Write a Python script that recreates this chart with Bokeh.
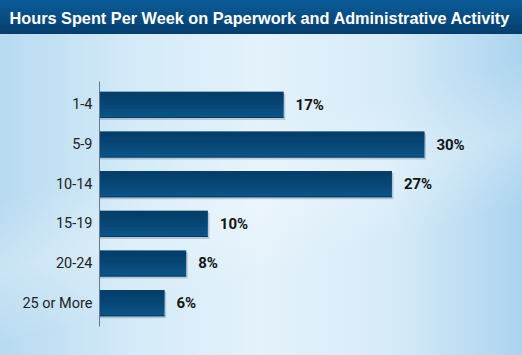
from bokeh.plotting import figure
from bokeh.models import FactorRange, Range1d, ColumnDataSource
from bokeh.transform import dodge
from bokeh.core.properties import value
from bokeh.embed import file_html
from bokeh.resources import INLINE

# ---- data ----
categories = ["1-4", "5-9", "10-14", "15-19", "20-24", "25 or More"]
percent = [17, 30, 27, 10, 8, 6]
pct_labels = ["17%", "30%", "27%", "10%", "8%", "6%"]
title_text = "Hours Spent Per Week on Paperwork and Administrative Activity"

# ---- layout constants ----
W, H = 522, 355
LEFT = 99
TOP = 81
BOTTOM = 29
PX_PER_PCT = 10.83

src = ColumnDataSource(dict(cat=categories, pct=percent, lbl=pct_labels))

p = figure(width=W, height=H, output_backend="svg", toolbar_location=None,
           y_range=FactorRange(factors=categories[::-1], range_padding=0.03,
                               range_padding_units="percent"),
           x_range=Range1d(0, (W - LEFT) / PX_PER_PCT),
           min_border_left=LEFT, min_border_right=0,
           min_border_top=TOP, min_border_bottom=BOTTOM)

p.background_fill_color = None
p.border_fill_color = None
p.outline_line_color = None
p.xgrid.visible = False
p.ygrid.visible = False
p.xaxis.visible = False

p.styles = {
    "background": (
        "linear-gradient(to bottom, #0b5c99 0px, #063e6d 34px, rgba(0,0,0,0) 34px), "
        "linear-gradient(165deg, rgba(255,255,255,0.0) 40%, rgba(255,255,255,0.25) 55%, rgba(255,255,255,0) 70%), "
        "linear-gradient(to right, #b7daf1 0%, #d3eaf8 25%, #e4f2fb 50%, #d6ebf8 75%, #acd4ef 100%)"
    )
}

# title (blank trailing lines lift it into the top bar)
p.title.text = title_text + "\n \n \n "
p.title.align = "left"
p.title.offset = -90
p.title.text_color = "white"
p.title.text_font = "Liberation Sans"
p.title.text_font_style = "bold"
p.title.text_font_size = "16.3px"
p.title.standoff = 1

# bars: shadow, base colour, then darkening layers from the top
BH = 0.66
p.hbar(y=dodge("cat", -0.05, range=p.y_range), left=0, right=dodge("pct", 0.15),
       height=BH, source=src, fill_color="#23405c", fill_alpha=0.22, line_color=None)
p.hbar(y="cat", left=0, right="pct", height=BH, source=src,
       fill_color="#0b5488", line_color=None)
p.hbar(y=dodge("cat", -BH / 2 + 0.012, range=p.y_range), left=0, right="pct",
       height=0.024, source=src, fill_color="#083a60", line_color=None)
nl = 7
for i in range(nl):
    depth = BH * (i + 1) / (nl + 1)
    p.hbar(y=dodge("cat", BH / 2 - depth / 2, range=p.y_range), left=0, right="pct",
           height=depth, source=src, fill_color="#05284a", fill_alpha=0.09,
           line_color=None)

p.text(x="pct", y="cat", text="lbl", source=src, x_offset=12,
       text_baseline="middle", text_align="left",
       text_font=value("Roboto"), text_font_style="bold",
       text_font_size="15px", text_color="#141414")

ax = p.yaxis[0]
ax.axis_line_color = "#6b7784"
ax.axis_line_width = 1
ax.major_tick_line_color = None
ax.minor_tick_line_color = None
ax.major_tick_out = 0
ax.major_tick_in = 0
ax.major_label_standoff = 7
ax.major_label_text_font = "Roboto"
ax.major_label_text_font_size = "14.5px"
ax.major_label_text_color = "#222222"

open("out.html", "w").write(file_html(p, INLINE))
